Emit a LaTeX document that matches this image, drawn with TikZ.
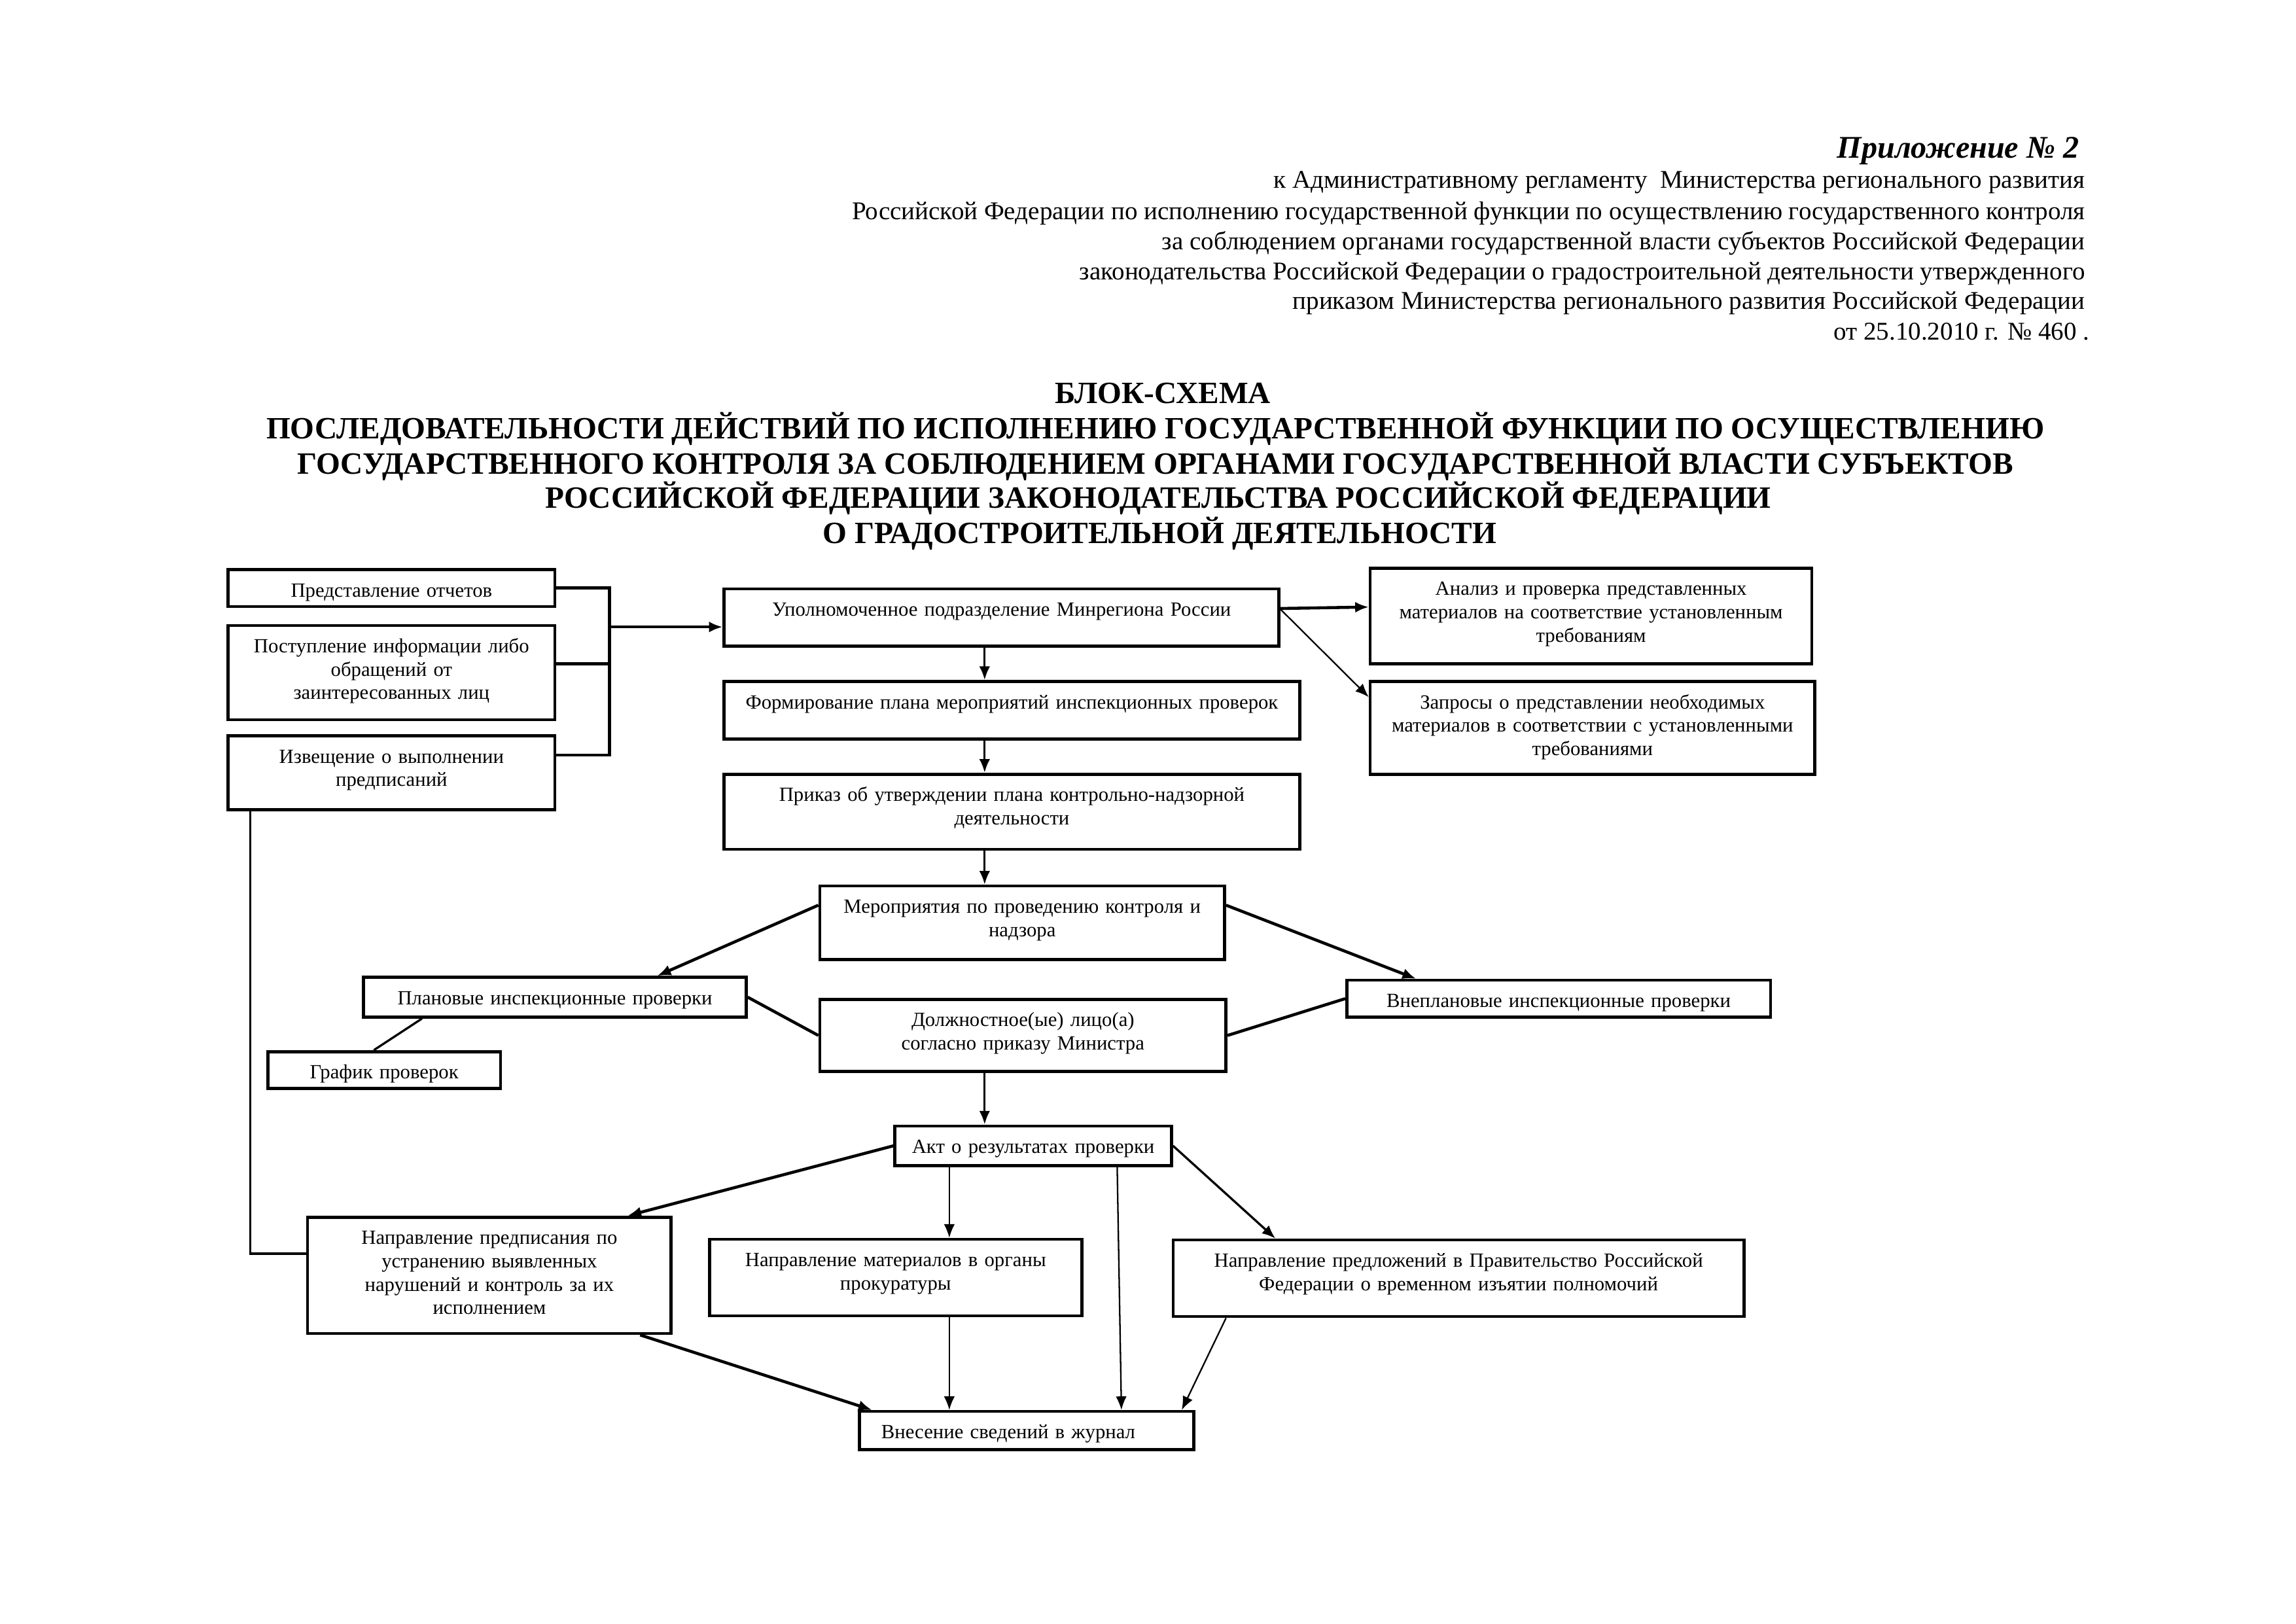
\documentclass[tikz,border=0pt]{standalone}
\usepackage{fontspec}
\setmainfont{Liberation Serif}
\usetikzlibrary{arrows.meta}
\tikzset{
  box/.style={draw, line width=1.1pt, anchor=north west, align=center,
    inner xsep=2pt, inner ysep=0pt, text height=10pt,
    font=\fontsize{7.4}{8.6}\selectfont},
  boxsize/.code 2 args={%
    \pgfmathsetlengthmacro\bw{#1*0.5417pt}%
    \pgfmathsetlengthmacro\tw{#1*0.5417pt-4pt}%
    \pgfmathsetlengthmacro\td{#2*0.5417pt-10pt}%
    \edef\boxnext{\noexpand\tikzset{minimum width=\bw, text width=\tw, text depth=\td}}%
    \boxnext},
  heavy/.style={line width=1.1pt},
  medium/.style={line width=0.8pt},
  fine/.style={line width=0.55pt},
  arr/.style={-{Latex[length=5pt,width=4pt]}},
  hdr/.style={anchor=base east, inner sep=0pt, font=\fontsize{9.4}{11.2}\selectfont},
  ttl/.style={anchor=base, inner sep=0pt, font=\fontsize{11.4}{13}\selectfont\bfseries},
}

\begin{document}
\begin{tikzpicture}[x=0.5417pt, y=-0.5417pt]
  \useasboundingbox (0,0) rectangle (1560,1103);

  % header
  \node[hdr, font=\fontsize{11.6}{14}\selectfont\bfseries\itshape] (hdr1) at (1413,107.5) {Приложение № 2};
  \node[hdr] (hdr2) at (1417,128) {к Административному регламенту\ \ Министерства регионального развития};
  \node[hdr] (hdr3) at (1417,149) {Российской Федерации по исполнению государственной функции по осуществлению государственного контроля};
  \node[hdr] (hdr4) at (1417,169.7) {за соблюдением органами государственной власти субъектов Российской Федерации};
  \node[hdr] (hdr5) at (1417,190) {законодательства Российской Федерации о градостроительной деятельности утвержденного};
  \node[hdr] (hdr6) at (1417,210) {приказом Министерства регионального развития Российской Федерации};
  \node[hdr] (hdr7) at (1420,231) {от 25.10.2010 г. № 460 .};

  % title
  \node[ttl] (ttl1) at (790,274) {БЛОК-СХЕМА};
  \node[ttl] (ttl2) at (785,298) {ПОСЛЕДОВАТЕЛЬНОСТИ ДЕЙСТВИЙ ПО ИСПОЛНЕНИЮ ГОСУДАРСТВЕННОЙ ФУНКЦИИ ПО ОСУЩЕСТВЛЕНИЮ};
  \node[ttl] (ttl3) at (785,322.3) {ГОСУДАРСТВЕННОГО КОНТРОЛЯ ЗА СОБЛЮДЕНИЕМ ОРГАНАМИ ГОСУДАРСТВЕННОЙ ВЛАСТИ СУБЪЕКТОВ};
  \node[ttl] (ttl4) at (787,345) {РОССИЙСКОЙ ФЕДЕРАЦИИ ЗАКОНОДАТЕЛЬСТВА РОССИЙСКОЙ ФЕДЕРАЦИИ};
  \node[ttl] (ttl5) at (788,369) {О ГРАДОСТРОИТЕЛЬНОЙ ДЕЯТЕЛЬНОСТИ};

  % left column
  \node[box, boxsize={222}{25}] (otch) at (154,386) {Представление отчетов};
  \node[box, boxsize={222}{64}] (post) at (154,424) {Поступление информации либо\\обращений от\\заинтересованных лиц};
  \node[box, boxsize={222}{50}] (izv) at (154,499) {Извещение о выполнении\\предписаний};

  % main column
  \node[box, boxsize={377}{39}] (upol) at (491,399) {Уполномоченное подразделение Минрегиона России};
  \node[box, boxsize={391}{39}] (form) at (491,462) {Формирование плана мероприятий инспекционных проверок};
  \node[box, boxsize={391}{51}] (prik) at (491,525) {Приказ об утверждении плана контрольно-надзорной\\деятельности};
  \node[box, boxsize={300}{65}] (anal) at (930,385) {Анализ и проверка представленных\\материалов на соответствие установленным\\требованиям};
  \node[box, boxsize={302}{63}] (zapr) at (930,462) {Запросы о представлении необходимых\\материалов в соответствии с установленными\\требованиями};
  \node[box, boxsize={275}{50}] (mer) at (556,601) {Мероприятия по проведению контроля и\\надзора};
  \node[box, boxsize={260}{27}] (plan) at (246,663) {Плановые инспекционные проверки};
  \node[box, boxsize={276}{49}] (dolzh) at (556,678) {Должностное(ые) лицо(а)\\согласно приказу Министра};
  \node[box, boxsize={288}{25}] (vnepl) at (914,665) {Внеплановые инспекционные проверки};
  \node[box, boxsize={158}{25}] (graf) at (181,713.5) {График проверок};
  \node[box, boxsize={188}{27}] (akt) at (607,764) {Акт о результатах проверки};
  \node[box, boxsize={247}{79}] (predp) at (208,826) {Направление предписания по\\устранению выявленных\\нарушений и контроль за их\\исполнением};
  \node[box, boxsize={253}{52}] (prok) at (481,841) {Направление материалов в органы\\прокуратуры};
  \node[box, boxsize={388}{52}] (pred) at (796,841.5) {Направление предложений в Правительство Российской\\Федерации о временном изъятии полномочий};
  \node[box, boxsize={227}{26}, align=left] (zhur) at (583,958) {\hspace*{6pt}Внесение сведений в журнал};

  % helper coordinates
  \coordinate (brk) at (414,0);
  \coordinate (spine) at (669,0);
  \coordinate (col) at (645,0);
  \coordinate (postR) at ([yshift=3.3pt]post.east);
  \coordinate (izvR) at ([yshift=6.5pt]izv.east);
  \coordinate (upolL) at ([yshift=-3.5pt]upol.west);
  \coordinate (izvB) at ([xshift=-52pt]izv.south);
  \coordinate (predpL) at ([yshift=8pt]predp.west);

  % connectors
  \draw[heavy] (otch.east) -| (izvR -| brk) -- (izvR);
  \draw[heavy] (postR) -- (postR -| brk);
  \draw[heavy, arr] (upolL -| brk) -- (upolL);
  \draw[medium, arr] (upol.south -| spine) -- (form.north -| spine);
  \draw[medium, arr] (form.south -| spine) -- (prik.north -| spine);
  \draw[medium, arr] (prik.south -| spine) -- (mer.north -| spine);
  \draw[heavy, arr] ([yshift=3.3pt]upol.east) -- ([yshift=3.3pt]anal.west);
  \draw[fine, arr] ([yshift=3pt]upol.east) -- ([yshift=11.3pt]zapr.west);
  \draw[heavy, arr] ([yshift=6.5pt]mer.west) -- ([xshift=37.7pt]plan.north);
  \draw[heavy, arr] ([yshift=6.5pt]mer.east) -- ([xshift=-52.5pt]vnepl.north);
  \draw[heavy] (plan.east) -- (dolzh.west);
  \draw[heavy] (vnepl.west) -- (dolzh.east);
  \draw[medium] ([xshift=-48.9pt]plan.south) -- ([xshift=-3.8pt]graf.north);
  \draw[medium, arr] (dolzh.south -| spine) -- (akt.north -| spine);
  \draw[heavy, arr] (akt.west) -- ([xshift=50.9pt]predp.north);
  \draw[fine, arr] (akt.south -| col) -- (prok.north -| col);
  \draw[fine, arr] ([xshift=30.9pt]akt.south) -- ([xshift=34.9pt]zhur.north);
  \draw[medium, arr] (akt.east) -- ([xshift=-67.4pt]pred.north);
  \draw[heavy, arr] ([xshift=55.5pt]predp.south) -- ([xshift=-56.9pt]zhur.north);
  \draw[fine, arr] (prok.south -| col) -- (zhur.north -| col);
  \draw[fine, arr] ([xshift=-85.6pt]pred.south) -- ([xshift=57.1pt]zhur.north);
  \draw[medium] (izvB) |- (predpL);
\end{tikzpicture}
\end{document}
